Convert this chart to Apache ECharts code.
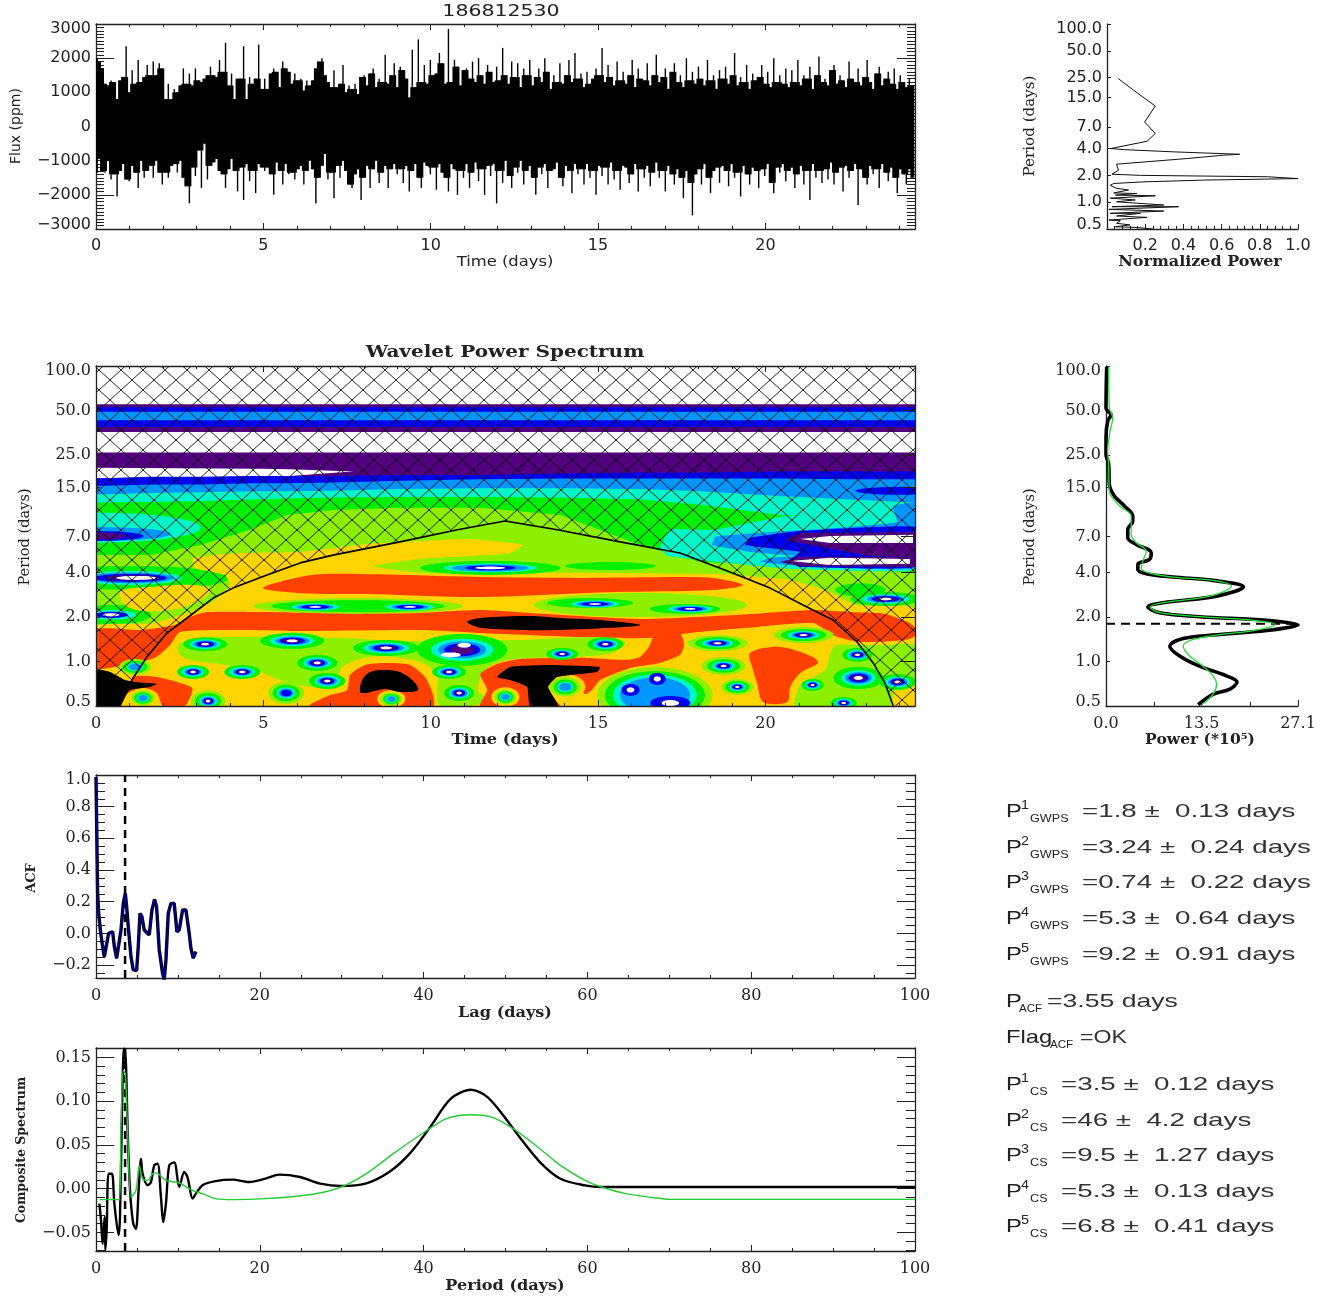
<!DOCTYPE html>
<html><head><meta charset="utf-8">
<script src="https://cdn.jsdelivr.net/npm/echarts@6/dist/echarts.min.js"></script>
<style>html,body{margin:0;background:#fff}#c{width:1338px;height:1296px}</style></head>
<body><div id="c"></div>
<script>
// ---------- light curve envelope (ppm), one value every fluxStep days
const fluxStep = 0.09;
const fluxHigh = [2000,1900,1700,1250,1200,1350,1300,800,1350,1450,2350,
1000,1650,1250,1950,1300,1450,1800,1500,1900,1500,1850,
1700,800,1250,800,1100,1000,1200,1700,1250,1550,1200,
1700,1350,1300,1400,1500,1750,1500,1450,1950,1600,2450,
1200,1550,800,1400,1400,2350,800,1450,1250,1400,2400,
1100,1400,1100,1550,1700,1600,1150,1900,1700,1600,1250,
1550,1350,1400,1050,1350,1200,1350,1700,1900,2000,1500,
1300,1150,1650,1150,1250,1800,1000,1200,1100,1250,950,
1450,1500,1200,1550,1700,1150,1400,1300,2100,1250,1500,
1850,1150,1750,1650,1400,850,2250,1150,2550,1300,1800,
1250,1950,1500,1550,2150,1850,1250,2850,1300,1950,1750,
1200,1650,1700,1400,1900,1300,2000,1500,1250,1800,1600,
1300,1750,1350,2300,1500,1250,1900,1450,1850,1150,1700,
1500,1950,1200,1450,1700,1300,2000,1600,1100,1500,1300,
1850,1250,1500,1950,1300,2150,1400,1550,1150,1600,1250,
1400,1700,1500,2300,1300,1800,1450,1200,1900,1350,1600,
1250,1500,1950,1150,1700,1400,1350,1850,1200,1500,2100,
1300,1450,1700,1100,1600,1850,1300,1500,1150,2000,1350,
1600,1250,1750,1400,1200,1950,1350,1500,1100,1650,1400,
1750,1250,1500,2150,1200,1450,1300,1800,1100,1550,1350,
1450,1800,1250,1600,1150,2000,1300,1500,1250,1700,1150,
1650,1300,1950,1200,1500,1400,1750,1100,1500,2050,1300,
1400,1200,1650,1800,1250,1500,1350,1150,1900,1400,1300,
1700,1200,1450,1950,1300,1100,1550,1750,1200,1400,1600,
1250,1700,1100,1500,1300,1150,1400,1200];
const fluxLow = [-1350,-950,-1300,-1350,-1000,-1550,-1400,-2050,-1300,-1100,-1550,
-1600,-1150,-1350,-1800,-1000,-1500,-1300,-1150,-1500,-1000,-1350,
-1700,-1350,-1500,-1150,-1100,-1350,-1000,-1500,-1750,-2250,-1200,
-1450,-700,-1800,-500,-1550,-1150,-1050,-950,-1300,-1400,-1800,
-1250,-950,-1300,-1900,-1200,-2150,-1100,-1600,-1300,-1950,-1100,
-1200,-1300,-1200,-1400,-2000,-1050,-1300,-1700,-1100,-1400,-1350,
-1550,-1250,-1150,-1700,-1300,-1000,-1250,-2250,-1500,-1150,-800,
-1550,-1350,-2100,-1150,-1500,-1000,-1300,-1700,-1800,-1400,-1250,
-2150,-1500,-1150,-1800,-1250,-1000,-1650,-1350,-1150,-1800,-1250,
-1100,-1400,-1250,-1650,-1150,-1900,-1300,-1100,-1500,-1800,-1050,
-1150,-1400,-1200,-1850,-1100,-1350,-1500,-1900,-1100,-1250,-2000,
-1300,-1500,-1100,-1800,-1350,-1050,-1600,-1250,-2000,-1150,-1450,
-1100,-2250,-1300,-1650,-1000,-1450,-1800,-1200,-1350,-1000,-1700,
-1300,-1150,-1500,-2000,-1200,-1400,-1100,-1800,-1300,-1250,-1050,
-1500,-1750,-1150,-1300,-1950,-1100,-1400,-1250,-1700,-1100,-1500,
-1300,-2000,-1150,-1450,-1200,-1700,-1050,-1550,-1300,-1850,-1150,
-1200,-1650,-1400,-1100,-1900,-1250,-1500,-1150,-1750,-1350,-1050,
-1500,-1300,-1900,-1150,-1400,-1700,-1250,-1500,-2100,-1300,-1650,
-2600,-1400,-1250,-1700,-1100,-1500,-1950,-1300,-1200,-1650,-1150,
-1300,-1750,-1100,-1500,-1350,-2050,-1150,-1400,-1700,-1200,-1300,
-1800,-1250,-1450,-1100,-1650,-1950,-1200,-1350,-1100,-1600,-1300,
-1200,-1800,-1400,-1150,-1700,-1300,-2150,-1100,-1500,-1300,-1650,
-1250,-1550,-1050,-1700,-1350,-1200,-1900,-1150,-1500,-1300,-1100,
-2300,-1250,-1500,-1700,-1150,-1400,-1250,-1800,-1100,-1350,-1600,
-1200,-1500,-1950,-1250,-1400,-1700,-1250,-1500];

// ---------- normalized periodogram [power, period]
const lombScargle = [[.06,24.3],[.14,18],[.253,12],[.197,7.95],[.253,5.9],[.21,4.83],[.02,4],[.087,3.89],[.35,3.67],[.695,3.45],[.61,3.37],[.42,3.09],[.05,2.67],[.06,2.28],[.026,2.06],[.175,2],[.84,1.93],[1,1.84],[.506,1.77],[.19,1.69],[.035,1.62],[.017,1.55],[.05,1.43],[.113,1.37],[.035,1.27],[.157,1.25],[.044,1.2],[.253,1.18],[.017,1.11],[.148,1.06],[.05,1.01],[.297,.93],[.026,.89],[.375,.89],[.01,.83],[.297,.795],[.017,.75],[.175,.75],[.05,.7],[.21,.675],[.01,.63],[.07,.62],[.05,.58],[.12,.555],[.044,.53],[.157,.52],[.24,.5]];

// ---------- global wavelet power [power, period]
const gwpsPower = [[.1,98.7],[0,52],[.24,49.5],[.71,47],[.24,42.3],[0,32.7],[0,25.2],[.38,21.6],[.47,15.8],[1.18,13.2],[2.6,11.3],[3.78,9.65],[3.78,8.9],[3.07,7.83],[3.07,6.88],[4.26,6.2],[6.39,5.45],[6.15,4.91],[4.49,4.54],[4.49,4.2],[5.68,3.93],[9.46,3.73],[15.1,3.54],[19.4,3.2],[15.6,2.77],[8.04,2.5],[5.91,2.34],[7.57,2.14],[13.2,2.01],[22.7,1.9],[27.1,1.77],[22.7,1.62],[15.1,1.51],[10.9,1.43],[9,1.27],[10.4,1.09],[13.2,.93],[17,.8],[18.5,.727],[17.5,.65],[15.1,.6],[13,.51]];
const gwpsFit = [[.38,98.7],[.47,52],[.95,44.6],[.57,36.2],[.24,26.5],[.38,20.5],[.47,14.2],[1.9,11.3],[3.55,9.65],[3.55,8],[3.55,7.25],[4.26,6.37],[5.68,5.59],[5.2,4.78],[4.97,4.31],[5.91,4],[9.46,3.73],[15.1,3.54],[17.7,3.23],[14.7,2.77],[8.04,2.5],[6.24,2.34],[7.57,2.14],[13.2,2.01],[20.8,1.9],[23.9,1.78],[20.8,1.62],[15.6,1.51],[12.3,1.41],[10.9,1.27],[11.8,1.09],[13.7,.93],[15.1,.8],[15.6,.7],[15.1,.6],[13.5,.51]];
const gwpsPeak = 1.8;

// ---------- autocorrelation [lag, acf]
const acfCurve = [[0,.987],[.04,.84],[.2,.25],[.33,.126],[.53,.02],[.81,-.084],[1.02,-.147],[1.22,-.147],[1.54,0],[2.03,.01],[2.24,-.084],[2.52,-.158],[2.76,-.147],[3.05,.02],[3.33,.189],[3.58,.252],[3.74,.168],[3.98,.02],[4.27,-.147],[4.55,-.231],[4.96,-.235],[5.16,-.084],[5.37,.126],[5.61,.105],[5.89,.021],[6.5,-.01],[6.83,.147],[7.15,.214],[7.4,.168],[7.72,-.105],[8.13,-.252],[8.33,-.294],[8.54,-.168],[8.82,.126],[9.15,.189],[9.55,.189],[9.88,.01],[10.16,.021],[10.57,.147],[10.98,.147],[11.38,0],[11.59,-.094],[11.87,-.157],[12.2,-.116]];
const acfPeak = 3.55;

// ---------- composite spectrum [period, value]
const csCurve = [[.41,-.017],[.61,-.036],[.81,-.063],[1.06,-.032],[1.14,-.07],[1.3,-.0475],[1.54,.017],[1.95,.017],[2.24,-.017],[2.76,-.053],[2.93,-.032],[3.13,.0665],[3.33,.15],[3.46,.16],[3.66,.1425],[3.86,.0665],[4.07,.013],[4.27,-.017],[4.55,-.04],[4.88,-.046],[5.2,-.002],[5.49,.034],[5.69,.017],[6.3,.004],[6.71,.0076],[7.11,.0266],[7.52,.0285],[7.93,-.0095],[8.21,-.038],[8.54,-.017],[8.94,.0266],[9.55,.03],[10.16,.002],[10.77,.019],[11.18,.013],[11.79,-.0114],[12.2,-.0057],[13,.004],[14.6,.0087],[16.7,.0103],[18.7,.0076],[20.7,.0114],[22.4,.016],[24.9,.0133],[27.4,.0057],[29.9,.003],[32.9,.0057],[35.8,.019],[38.3,.04],[40.8,.0703],[43.3,.1026],[45.8,.113],[47.8,.1045],[50.2,.078],[51.7,.059],[54.2,.0304],[56.7,.0114],[59.7,.0038],[61.7,.0019],[100,.0019]];
const csFit = [[.41,-.0125],[2.85,-.0125],[3.05,.07],[3.33,.135],[3.58,.131],[3.86,.0665],[4.27,-.0095],[4.88,-.002],[5.28,.0266],[5.69,.0114],[6.3,.0095],[6.91,.017],[7.32,.018],[8.54,.0095],[10.16,.0065],[11.79,-.002],[13,-.0057],[14.6,-.0114],[16.7,-.0125],[20.7,-.0114],[24.8,-.0084],[27.9,-.0038],[30.4,.0038],[33.3,.019],[36.3,.04],[39.8,.0627],[42.8,.08],[45.8,.0844],[48.3,.0817],[50.7,.07],[53.7,.0494],[56.7,.0266],[59.7,.0095],[61.7,.0019],[64.7,-.0057],[68.1,-.0103],[70.1,-.0122],[100,-.0122]];

// ---------- cone of influence [time, period]
const coi = [[.72,.5],[1.11,.774],[1.52,1.075],[2.12,1.56],[2.72,1.97],[3.5,2.69],[4.09,3.14],[5.11,3.85],[6.1,4.65],[7.08,5.25],[9.08,6.45],[10.8,7.8],[12.22,8.93],[13.78,7.8],[15.66,6.45],[17.45,5.43],[18.94,4.04],[20.14,3.14],[21.24,2.34],[22.02,1.91],[22.74,1.355],[23.22,.978],[23.57,.716],[23.82,.5]];

// ---------- wavelet power contours: colour levels and regions read as [time, period]
const levelColors = ['#ffffff','#520080','#0000f0','#0096ff','#00f5c8','#00f000','#8cf000','#ffd400','#ff4000','#000000'];
const TMAX = 24.47;
const bandTimes = [0,1.61,3.11,4.6,5.71,7.08,9.08,11.48,13.87,16.26,18.05,20.44,22.53,24.47];
const bandBlue  = [17.3,17.8,17.8,18,18,18,18.3,18.3,18.7,19,19,19.3,19.3,19.3];
const bandAzure = [15.4,15.8,15.8,16.1,16.1,16.3,16.7,17.1,17.3,17.3,17.3,17.3,17.1,17.1];
const bandAqua  = [13.5,13.8,14,14.2,14.2,14.3,14.7,14.9,14.9,14.7,14.2,13.2,12.5,11.9];
const bandGreen = [11.9,12,12.2,12.5,12.7,12.9,13,13,12.9,12.5,11.5,9.8,9.4,9.4];
const bandLime  = [5.25,5.25,6.15,7.8,9.8,10.6,11,11,9.8,6.15,4.72,4.5,4.17,4.04];
// ["p",level,smooth,points] polygon; ["o",outerLevel,innerLevel,t,P,rxDays,ryOctaves] nested ovals
const wavTop = [
 ["p",1,0,[[0,55],[TMAX,55],[TMAX,35.8],[0,35.8]]],
 ["p",2,0,[[0,52.5],[TMAX,52.5],[TMAX,38.6],[0,38.6]]],
 ["p",3,0,[[0,49],[TMAX,49],[TMAX,43],[0,43]]],
 ["p",1,0,[[0,26],[TMAX,26],[TMAX,.5],[0,.5]]],
 ["p",0,0,[[0,20.5],[4.9,20.2],[5.8,20],[7.7,19.3],[6.6,18.6],[5.8,18],[4.6,17.8],[0,17.4]]]
];
const wavCold = [
 ["p",4,.1,[[20.65,9.65],[24.47,9.4],[24.47,4.17],[20.74,4.24],[18.05,4.87],[17.09,5.17],[16.85,5.88],[17.15,7.8],[18.5,7.8]]],
 ["p",3,.1,[[24.47,11.9],[23.81,11.2],[23.93,8.8],[22.23,8.05],[20.14,7.53],[18.5,7],[18.41,6.15],[19.54,5.52],[21.04,5.17],[20.14,5.03],[19.84,4.72],[21.04,4.43],[24.47,4.3]]],
 ["p",2,.1,[[24.47,8.15],[21.04,7.64],[19.54,6.87],[19.39,6.15],[21.04,5.52],[20.68,4.79],[21.04,4.36],[24.47,4.36]]],
 ["p",1,0,[[20.59,6.65],[21.04,7.41],[24.47,7.53],[24.47,5.1],[23.13,5.17],[21.63,5.97]]],
 ["p",1,0,[[20.44,4.72],[21.04,5.1],[24.47,5.1],[24.47,4.36],[21.04,4.43]]],
 ["p",0,0,[[21.04,6.76],[21.93,7.07],[24.41,7.2],[24.41,6.35],[21.93,6.35]]],
 ["p",0,0,[[20.74,4.79],[21.93,5.03],[24.32,4.95],[24.32,4.58],[21.93,4.5]]],
 ["o",2,2,24.04,14.3,1.35,.09],
 ["o",4,4,0,8.05,3.14,.34],["o",3,3,0,7.3,2.24,.157],["o",2,2,0,7.07,1.43,.11],["o",1,1,0,7.07,.9,.08],
 ["o",5,5,1.02,3.68,3,.27],["o",4,4,1.02,3.68,1.55,.157],["o",3,3,1.02,3.68,1.3,.12],["o",2,2,1.02,3.68,1.1,.09],["o",1,1,1.1,3.68,.8,.06],["o",0,0,1.2,3.68,.6,.045],
 ["o",5,5,.45,2.07,1.2,.22],["o",4,4,.45,2.07,.75,.11],["o",2,2,.45,2.07,.5,.07],["o",0,0,.45,2.07,.25,.035]
];
const wavGold = [
 ["p",7,.15,[[0,1.715],[1.61,1.8],[2.27,1.97],[2.81,2.16],[3.56,2.61],[4,3.3],[3.85,3.85],[2.96,4.3],[2.9,5.03],[4.3,5.43],[6.1,5.52],[8.1,6.25],[11.18,6.76],[12.76,6.15],[12.37,5.43],[11.18,5.17],[9.68,4.95],[8.28,4.43],[9.68,3.98],[12.07,3.98],[15.06,3.98],[18.65,3.92],[19.84,3.73],[20.74,3.57],[21.93,2.95],[22.68,2.41],[24.47,2.27],[24.47,.5],[0,.5]]],
 ["p",7,.4,[[.72,2.95],[1.61,3.19],[2.96,3.3],[3.41,3.05],[3.11,2.61],[2.21,2.23],[1.02,2.3]]],
 ["o",5,5,11.78,4.3,2.1,.157],["o",5,5,15.37,4.43,1.35,.09],["o",4,4,11.78,4.3,1.4,.1],["o",3,3,11.78,4.3,1.15,.08],["o",2,2,11.78,4.3,.75,.056],["o",0,0,11.78,4.3,.45,.03],
 ["o",5,5,22.84,3.05,.75,.15],
 ["p",8,.3,[[4.99,3.14],[6.1,3.73],[7.08,3.92],[11.48,3.73],[14.47,3.68],[17.45,3.73],[18.44,3.68],[19.33,3.3],[18.44,3.05],[15.45,2.95],[11.48,2.73],[8.1,2.86],[6.1,2.9]]],
 ["o",6,6,7.83,2.37,3.14,.18],["o",6,6,16.26,2.41,3.2,.27],
 ["o",5,5,7.83,2.37,2.6,.135],["o",5,5,14.76,2.49,1.29,.11],["o",5,5,17.6,2.27,1.05,.11],
 ["o",4,0,6.55,2.34,.72,.08],["o",4,0,9.38,2.34,.72,.08],["o",4,0,14.91,2.45,.72,.08],["o",4,0,17.75,2.27,.66,.08],
 ["o",5,0,23.59,2.65,1.05,.157]
];
const wavOrange = [
 ["p",8,.2,[[0,1.635],[1.31,1.635],[2.36,1.77],[2.81,2],[3.32,2.16],[5.11,2.16],[7.59,2.1],[9.68,2.13],[11.48,2.23],[12.97,2.13],[15.45,1.97],[16.55,1.94],[19.24,2.07],[21.42,2.23],[22.53,2.16],[23.57,2.1],[24.26,1.85],[24.47,1.69],[24.47,1.49],[24.17,1.4],[22.83,1.355],[22.08,1.49],[21.42,1.82],[19.45,1.69],[17.75,1.56],[16.46,1.44],[14.47,1.465],[11.48,1.56],[9.68,1.635],[6.1,1.61],[4.09,1.635],[2.51,1.585],[2.21,1.29],[1.76,1.06],[1.02,.963],[0,.905]]],
 ["p",6,.3,[[2.45,1.29],[3.11,1.44],[5.2,1.465],[7.29,1.44],[9.08,1.38],[11.18,1.4],[12.67,1.4],[15.06,1.465],[15.81,1.355],[15.51,1.16],[14.76,1.09],[12.97,1.06],[12.07,.994],[11.62,.877],[11.41,.642],[11.77,.548],[11.18,.5],[10.28,.5],[10.19,.642],[10.19,.811],[9.83,.963],[9.08,1.06],[8.19,1.075],[7.44,.948],[7.14,.75],[6.84,.662],[6.1,.694],[5.5,.75],[4.9,.85],[3.85,.948],[2.81,1.026],[2.51,1.11]]],
 ["p",6,.2,[[22.08,1.29],[23.43,1.29],[24.47,1.29],[24.47,.75],[23.87,.642],[23.72,.5],[20.89,.5],[21.04,.694],[21.78,.877],[21.93,1.11]]],
 ["p",8,.25,[[6.39,.5],[7,.593],[7.5,.642],[7.59,.811],[8.04,.948],[8.64,.978],[9.38,.948],[9.83,.786],[10.07,.593],[10.07,.5]]],
 ["p",8,.2,[[1.11,.786],[1.82,.786],[2.87,.662],[2.66,.5],[2,.5],[1.82,.612],[1.4,.662],[.96,.612],[.72,.5]]],
 ["p",8,.2,[[11.48,.824],[11.98,.963],[12.67,1.04],[14.47,1.06],[15.81,1.026],[16.26,1.075],[16.55,1.29],[16.7,1.54],[17.45,1.54],[17.57,1.29],[17.45,1.11],[16.85,.978],[15.96,.905],[15.06,.75],[14.82,.642],[14.61,.602],[14.32,.694],[13.87,.75],[13.63,.694],[13.63,.575],[13.87,.5],[11.48,.5],[11.69,.642]]],
 ["p",8,.3,[[19.54,1.14],[20.44,1.255],[21.42,1.075],[21.57,.978],[21.04,.837],[20.74,.673],[20.65,.532],[19.93,.532],[19.75,.716],[19.63,.877]]],
 ["o",8,8,24.2,.53,.3,.06]
];
const wavSpots = [
 ["o",5,0,3.26,1.31,.66,.157],["o",5,0,2.9,.85,.48,.157],["o",5,0,4.37,.85,.54,.157],
 ["o",5,0,5.86,1.38,.96,.18],["o",5,0,8.67,1.235,.99,.18],["o",5,0,6.61,.978,.6,.18],["o",5,0,6.91,.738,.54,.18],
 ["o",6,2,5.68,.612,.54,.25],["o",5,0,10.55,.85,.51,.157],["o",5,0,10.85,.612,.45,.18],
 ["o",5,1,10.94,1.2,1.35,.36],["o",0,0,11,1.29,.2,.055],["o",0,0,10.6,1.11,.3,.055],
 ["o",7,3,1.4,.566,.45,.22],["o",6,0,3.35,.54,.52,.24],["o",7,3,8.82,.557,.42,.2],
 ["o",5,0,13.93,1.125,.48,.135],["o",5,0,15.22,1.31,.54,.157],["o",7,3,12.23,.575,.42,.22],["o",7,3,14.02,.673,.6,.29],
 ["o",6,6,16.7,.593,1.73,.63],["o",5,5,16.7,.593,1.5,.54],["o",4,4,16.7,.593,1.26,.46],["o",3,3,16.7,.593,1.05,.4],
 ["o",2,0,15.97,.642,.27,.135],["o",2,0,16.77,.762,.25,.135],["o",2,0,17.16,.524,.6,.157],
 ["o",6,0,18.75,.933,.66,.2],["o",6,0,19.16,.673,.48,.18],["o",6,0,18.57,1.33,.9,.18],["o",6,0,21.14,1.51,.9,.18],
 ["o",5,0,22.75,1.11,.45,.157],["o",5,0,22.78,.774,.75,.25],["o",5,0,21.41,.694,.33,.135],["o",5,0,22.34,.524,.39,.135],["o",5,0,23.95,.727,.54,.18],
 ["o",6,3,1.17,.919,.48,.18]
];
const wavBlack = [
 ["o",9,9,.76,1.255,.66,.18],
 ["p",9,.15,[[0,.877],[.42,.85],[.87,.75],[1.17,.727],[1.82,.705],[1.61,.673],[1.02,.642],[.78,.548],[.72,.5],[0,.5]]],
 ["p",9,.3,[[7.89,.622],[7.95,.75],[8.19,.85],[8.64,.877],[9.08,.85],[9.45,.75],[9.63,.642],[9.08,.622],[8.64,.652],[8.04,.612]]],
 ["p",9,.3,[[11.09,1.85],[11.48,1.97],[12.97,2.03],[13.87,1.97],[15.06,1.91],[16.26,1.77],[15.36,1.69],[13.87,1.635],[12.67,1.635],[11.48,1.69]]],
 ["p",9,.15,[[11.98,.786],[12.37,.919],[13.48,.948],[15.06,.919],[14.97,.85],[13.78,.786],[13.51,.673],[13.81,.5],[12.97,.5],[12.88,.673],[12.37,.75]]],
 ["o",9,9,20.54,.85,.39,.2]
];

// ---------- axis ticks and labels
const periodTicks = [0.5,1,2,4,7,15,25,50,100];
const fluxTicks = [-3000,-2000,-1000,0,1000,2000,3000];
const acfTicks = [-0.2,0,0.2,0.4,0.6,0.8,1.0];
const csTicks = [-0.05,0,0.05,0.10,0.15];
const timeTicks = [0,5,10,15,20];
const lagTicks = [0,20,40,60,80,100];
const normTicks = [0.2,0.4,0.6,0.8,1.0];
const powerTicks = [0,13.5,27.1];

const statLines = [
 ["1","GWPS","=1.8 \u00b1  0.13 days",812],["2","GWPS","=3.24 \u00b1  0.24 days",848],["3","GWPS","=0.74 \u00b1  0.22 days",883],["4","GWPS","=5.3 \u00b1  0.64 days",919],["5","GWPS","=9.2 \u00b1  0.91 days",955],
 ["1","CS","=3.5 \u00b1  0.12 days",1085],["2","CS","=46 \u00b1  4.2 days",1121],["3","CS","=9.5 \u00b1  1.27 days",1156],["4","CS","=5.3 \u00b1  0.13 days",1192],["5","CS","=6.8 \u00b1  0.41 days",1227]
];

// ---------- helpers
const INK = '#222';
function range(a,b,s){const o=[];const n=Math.round((b-a)/s);for(let i=0;i<=n;i++)o.push(+(a+i*s).toFixed(5));return o;}
const xAxes=[], yAxes=[];
function addAxis(list,c){
  list.push({type:c.type||'value',gridIndex:c.grid,position:c.pos,min:c.min,max:c.max,logBase:c.type==='log'?2:undefined,z:c.z||0,
    axisLine:{show:c.line!==false,onZero:false,lineStyle:{color:INK,width:1.3}},
    axisTick:{show:!!c.ticks,inside:true,length:c.len||4,customValues:c.ticks,lineStyle:{color:INK,width:1}},
    minorTick:{show:false},splitLine:{show:false},
    axisLabel:c.labels?{show:true,customValues:c.labels,formatter:c.fmt,margin:c.margin||6,color:INK,
      fontFamily:c.family||'DejaVu Sans',fontSize:c.size||16,lineHeight:c.lh,
      verticalAlignMinLabel:c.vmin?'bottom':undefined,verticalAlignMaxLabel:c.vmax?'top':undefined}:{show:false}
  });
  return list.length-1;
}
const SERIF='DejaVu Serif';
function hAxes(grid,min,max,major,minor,len,minLen,fmt,family,mirror,z,margin){
  const idx=addAxis(xAxes,{grid,pos:'bottom',min,max,ticks:major,labels:major,len,fmt,family,margin:margin||9,z});
  addAxis(xAxes,{grid,pos:'bottom',min,max,ticks:minor,len:minLen,line:false,z});
  if(mirror){addAxis(xAxes,{grid,pos:'top',min,max,ticks:major,len,z});addAxis(xAxes,{grid,pos:'top',min,max,ticks:minor,len:minLen,line:false,z});}
  return idx;
}
function vAxes(grid,type,min,max,major,minor,len,minLen,fmt,family,mirror,z,rightLen,vmin,vmax){
  const idx=addAxis(yAxes,{grid,type,pos:'left',min,max,ticks:major,labels:major,len,fmt,family,vmin,vmax,lh:9,margin:5,z});
  if(minor)addAxis(yAxes,{grid,type,pos:'left',min,max,ticks:minor,len:minLen,line:false,z});
  if(mirror){addAxis(yAxes,{grid,type,pos:'right',min,max,ticks:major,len:rightLen||len,z});
    if(minor)addAxis(yAxes,{grid,type,pos:'right',min,max,ticks:minor,len:minLen,line:false,z});}
  return idx;
}
const intFmt=v=>String(Math.round(v));
const minusFmt=v=>String(Math.round(v)).replace('-','\u2212');
const fix1=v=>(+v).toFixed(1);
const fix2=v=>(+v).toFixed(2).replace('-','\u2212');
const fix1m=v=>(+v).toFixed(1).replace('-','\u2212');

const grids=[
 {left:96,top:24,width:819,height:205},
 {left:1107,top:24,width:191,height:205},
 {left:96,top:366,width:819,height:340},
 {left:1106,top:366,width:192,height:340},
 {left:96,top:775,width:819,height:203},
 {left:96,top:1048,width:819,height:203}
].map(g=>Object.assign(g,{outerBoundsMode:'none',containLabel:false}));

const ACFMIN=-0.282, CSMIN=-0.0712, CSMAX=0.1607;
const x0=hAxes(0,0,TMAX,timeTicks,range(0,24,1),6,3,intFmt,undefined,true);
const y0=vAxes(0,'value',-3000,3000,fluxTicks,range(-3000,3000,100),18,8,minusFmt,undefined,true,0,0,true,true);
const x1=hAxes(1,0,1,normTicks,range(0,1,.04),5,3,fix1,undefined,false);
const y1=vAxes(1,'log',.5,100,periodTicks,null,4,0,fix1,undefined,false,0,0,true,true);
const x2=hAxes(2,0,TMAX,timeTicks,range(0,24,1),6,3,intFmt,SERIF,true,10,10);
const y2=vAxes(2,'log',.5,100,periodTicks,null,4,0,fix1,SERIF,true,10,14,true,true);
const x3=hAxes(3,0,27.1,powerTicks,[6.8,20.3],6,4,fix1,SERIF,false,0,10);
const y3=vAxes(3,'log',.5,100,periodTicks,null,4,0,fix1,SERIF,false,0,0,true,true);
const x4=hAxes(4,0,100,lagTicks,range(0,100,5),6,3,intFmt,SERIF,true,0,10);
const y4=vAxes(4,'value',ACFMIN,1,acfTicks,range(-.25,1,.05),18,9,fix1m,SERIF,true,0,0,false,true);
const x5=hAxes(5,0,100,lagTicks,range(0,100,5),6,3,intFmt,SERIF,true,0,10);
const y5=vAxes(5,'value',CSMIN,CSMAX,csTicks,range(-.07,.16,.01),18,9,fix2,SERIF,true,0,0,false,false);

// ---------- wavelet drawing list, painted in order
function toBottom(level,ps){return ["p",level,0,bandTimes.map((t,i)=>[t,ps[i]]).concat([[TMAX,.5],[0,.5]])];}
const wavBase=[toBottom(2,bandBlue),toBottom(3,bandAzure),toBottom(4,bandAqua),toBottom(5,bandGreen),toBottom(6,bandLime)];
const ringF={7:1.3,6:1,5:.75,4:.52,3:.4,2:.3,1:.2,0:.13};
const shapes=[];
wavTop.concat(wavBase,wavCold,wavGold,wavOrange,wavSpots,wavBlack).forEach(s=>{
  if(s[0]==='p'){shapes.push({level:s[1],smooth:s[2],pts:s[3]});return;}
  const [,outer,inner,t,p,rx,ry]=s;
  for(let l=outer;l>=inner;l--){
    if(outer!==inner&&l===1&&inner!==1&&outer<5)continue;
    const k=ringF[l]/ringF[outer],pts=[];
    for(let a=0;a<28;a++){const th=a/28*2*Math.PI;pts.push([t+rx*k*Math.cos(th),p*Math.pow(2,ry*k*Math.sin(th))]);}
    shapes.push({level:l,smooth:0,pts});
  }
});
const hatch=document.createElement('canvas');hatch.width=22;hatch.height=20;
(function(){const g=hatch.getContext('2d');g.strokeStyle='rgba(0,0,0,.85)';g.lineWidth=1;g.beginPath();g.moveTo(0,0);g.lineTo(22,20);g.moveTo(22,0);g.lineTo(0,20);g.stroke();})();
const hatchRegion=[[0,100],[0,.5]].concat(coi,[[TMAX,.5],[TMAX,100]]);

// ---------- text
const TF="'DejaVu Sans'", SF="'DejaVu Serif'";
function txt(text,x,y,o){o=o||{};return {type:'text',x,y,rotation:o.rot||0,scaleX:o.sx||1,scaleY:o.sy||1,silent:true,z:20,
  style:{text,font:o.font||("15px "+TF),fill:o.fill||INK,align:o.align||'center',verticalAlign:'middle'}};}
const UP=Math.PI/2;
const texts=[
 txt('186812530',501,12,{sx:1.28,font:"16px "+TF}),
 txt('Time (days)',505,262,{sx:1.17,font:"14px "+TF}),
 txt('Flux (ppm)',16,126,{rot:UP,font:"14px "+TF}),
 txt('Period (days)',1030,126,{rot:UP,font:"14px "+SF,sx:1.08}),
 txt('Normalized Power',1200,262,{font:"bold 14px "+SF,sx:1.14}),
 txt('Wavelet Power Spectrum',505,353,{font:"bold 16px "+SF,sx:1.25}),
 txt('Period (days)',25,537,{rot:UP,font:"14px "+SF,sx:1.04}),
 txt('Time (days)',505,740,{font:"bold 14px "+SF,sx:1.16}),
 txt('Period (days)',1030,537,{rot:UP,font:"14px "+SF,sx:1.04}),
 txt('Power (*10\u2075)',1200,740,{font:"bold 14px "+SF,sx:1.11}),
 txt('ACF',32,878,{rot:UP,font:"bold 13px "+SF}),
 txt('Lag (days)',505,1013,{font:"bold 14px "+SF,sx:1.15}),
 txt('Composite Spectrum',22,1150,{rot:UP,font:"bold 13px "+SF,sx:.96}),
 txt('Period (days)',505,1286,{font:"bold 14px "+SF,sx:1.15})
];
const STAT="19px 'Liberation Sans'", SUB="11px 'Liberation Sans'", SUP="13px 'Liberation Sans'";
statLines.forEach(l=>{
  const isCS=l[1]==='CS';
  texts.push(txt('P',1006,l[3],{font:STAT,align:'left',sx:1.25}));
  texts.push(txt(l[0],1021,l[3]-7,{font:SUP,align:'left',sx:1.1}));
  texts.push(txt(l[1],1030,l[3]+7,{font:SUB,align:'left',sx:1.15}));
  texts.push(txt(l[2],isCS?1061:1082,l[3],{font:STAT,align:'left',sx:1.46,fill:'#333'}));
});
texts.push(txt('P',1006,1002,{font:STAT,align:'left',sx:1.25}));
texts.push(txt('ACF',1019,1009,{font:SUB,align:'left',sx:1.05}));
texts.push(txt('=3.55 days',1047,1002,{font:STAT,align:'left',sx:1.4,fill:'#333'}));
texts.push(txt('Flag',1006,1038,{font:STAT,align:'left',sx:1.25}));
texts.push(txt('ACF',1050,1045,{font:SUB,align:'left',sx:1.05}));
texts.push(txt('=OK',1080,1038,{font:STAT,align:'left',sx:1.22,fill:'#333'}));

// ---------- series
function line(x,y,data,color,width,extra){return Object.assign({type:'line',xAxisIndex:x,yAxisIndex:y,data,showSymbol:false,symbol:'none',animation:false,silent:true,
  lineStyle:{color,width},clip:true},extra||{});}
function fluxColumn(p,api){
  const i=p.dataIndex,hi=fluxHigh[i],lo=fluxLow[i];
  const hp=fluxHigh[i-1]??hi,hn=fluxHigh[i+1]??hi,lp=fluxLow[i-1]??lo,ln=fluxLow[i+1]??lo;
  const top=Math.min(hi,Math.max(hp,hn)),bot=Math.max(lo,Math.min(lp,ln));
  const t=i*fluxStep;
  const x=api.coord([t,0])[0];
  const Y=v=>api.coord([t,v])[1];
  return {type:'group',silent:true,children:[
    {type:'rect',shape:{x:x-2,y:Y(top),width:4,height:Y(bot)-Y(top)},style:{fill:'#000'}},
    {type:'rect',shape:{x:x-.7,y:Y(hi),width:1.4,height:Y(lo)-Y(hi)},style:{fill:'#000'}}
  ]};
}
const series=[
 {type:'custom',xAxisIndex:x0,yAxisIndex:y0,clip:true,silent:true,data:fluxHigh.map((v,i)=>[i*fluxStep,v,fluxLow[i]]),renderItem:fluxColumn},
 line(x1,y1,lombScargle,'#111',1),
 {type:'custom',xAxisIndex:x2,yAxisIndex:y2,clip:true,silent:true,z:2,data:shapes.map(()=>[0,1]),
  renderItem:(p,api)=>{const s=shapes[p.dataIndex];return {type:'polygon',shape:{points:s.pts.map(q=>api.coord(q)),smooth:s.smooth},style:{fill:levelColors[s.level]},silent:true};}},
 {type:'custom',xAxisIndex:x2,yAxisIndex:y2,clip:true,silent:true,z:3,data:[[0,1]],
  renderItem:(p,api)=>({type:'polygon',shape:{points:hatchRegion.map(q=>api.coord(q))},style:{fill:{image:hatch,repeat:'repeat'}},silent:true})},
 line(x2,y2,coi,'#000',1.6,{z:4}),
 line(x3,y3,[[0,gwpsPeak],[27.1,gwpsPeak]],'#000',2,{lineStyle:{color:'#000',width:2,type:[9,6]}}),
 line(x3,y3,gwpsPower,'#000',3.6,{smooth:.35}),
 line(x3,y3,gwpsFit,'#22dd33',1.3,{smooth:.35,z:3}),
 line(x4,y4,[[acfPeak,ACFMIN],[acfPeak,1]],'#000',2.5,{lineStyle:{color:'#000',width:2.5,type:[8,6]}}),
 line(x4,y4,acfCurve,'#000',3.4,{z:3}),
 line(x4,y4,acfCurve,'#000090',1.8,{z:4}),
 line(x5,y5,[[acfPeak,CSMIN],[acfPeak,CSMAX]],'#000',2.5,{lineStyle:{color:'#000',width:2.5,type:[8,6]}}),
 line(x5,y5,csCurve,'#000',2.4,{smooth:.3,z:3}),
 line(x5,y5,csFit,'#22cc33',1.4,{smooth:.3,z:4})
];

const chart=echarts.init(document.getElementById('c'),null,{renderer:'canvas',width:1338,height:1296});
chart.setOption({animation:false,backgroundColor:'#fff',grid:grids,xAxis:xAxes,yAxis:yAxes,series,graphic:{elements:texts}});
</script></body></html>
